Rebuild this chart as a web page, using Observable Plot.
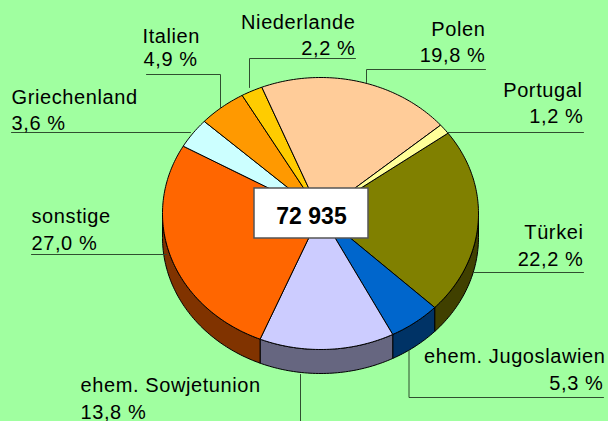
<!DOCTYPE html>
<html><head><meta charset="utf-8">
<script src="https://cdn.jsdelivr.net/npm/d3@7"></script>
<script src="https://cdn.jsdelivr.net/npm/@observablehq/plot@0.6"></script>
<style>html,body{margin:0;padding:0;background:#a0ffa0;overflow:hidden}svg{display:block}
svg text{letter-spacing:.6px}
g[font-weight="bold"] text{letter-spacing:0}</style>
</head><body><div id="c"></div>
<script>
const categories = ["Türkei","ehem. Jugoslawien","ehem. Sowjetunion","sonstige","Griechenland","Italien","Niederlande","Polen","Portugal"];
const shares = [22.2,5.3,13.8,27.0,3.6,4.9,2.2,19.8,1.2];
const shareLabels = ["22,2 %","5,3 %","13,8 %","27,0 %","3,6 %","4,9 %","2,2 %","19,8 %","1,2 %"];
const colors = ["#808000","#0066cc","#ccccff","#ff6600","#ccffff","#ff9900","#ffcc00","#ffcc99","#ffff99"];
const sideColors = ["#404000","#003366","#666680","#803300","#668080","#804d00","#806600","#806650","#80804d"];
const total = "72 935";

// layout of the pie
const cx = 320, cy = 213, rx = 158, ry = 136, depth = 24, startAngle = 53.8;
// label layout
const labelX = [583,605,80,31,11,142,355,485,582];
const labelAnchor = ["end","end","start","start","start","start","end","end","end"];
const nameBase = [238,362,391,222,103,42,28,35,96];
const valueBase = [265,389,418,249,129,65,54,61,122];
const valueX = [583,603,80,31,11,143,355,485,583];
const leaders = [
  [[473,272],[583,272]],
  [[408.5,350],[408.5,397],[603,397]],
  [[300,374],[300,421]],
  [[31,254],[166,254]],
  [[11,132],[190,132]],
  [[146,74],[220,74],[220,107]],
  [[249,87],[249,58],[355,58]],
  [[366,82],[366,69],[485,69]],
  [[447,132],[583,132]]
];

const rad = a => a * Math.PI / 180;
const pt = (a, dy = 0) => ({x: cx + rx * Math.sin(rad(a)), y: cy - ry * Math.cos(rad(a)) + dy});
const arcAngles = (a0, a1) => { const out = []; for (let a = a0; a < a1; a += 1) out.push(a); out.push(a1); return out; };

let acc = startAngle;
const slices = shares.map((s, i) => { const a0 = acc; acc += s * 3.6; return {a0, a1: acc, i}; });

const tops = slices.map(({a0, a1}) => {
  const arc = arcAngles(a0, a1).map(a => pt(a));
  return [{x: cx, y: cy}, ...arc, {x: cx, y: cy}];
});
const sides = slices.map(({a0, a1, i}) => {
  const lo = Math.max(a0, 90), hi = Math.min(a1, 270);
  if (lo >= hi) return null;
  const ang = arcAngles(lo, hi);
  const poly = [...ang.map(a => pt(a)), ...ang.slice().reverse().map(a => pt(a, depth))];
  poly.push(poly[0]);
  return {poly, i};
}).filter(Boolean);

const font = {fontFamily: "Liberation Sans, Arial, sans-serif", fill: "#000"};
const labelSize = 20;

const plot = Plot.plot({
  width: 608, height: 421, margin: 0,
  style: {background: "transparent", overflow: "visible"},
  x: {domain: [0, 608], range: [0, 608], axis: null},
  y: {domain: [0, 421], range: [0, 421], axis: null},
  marks: [
    ...sides.map(({poly, i}) => Plot.line(poly, {x: "x", y: "y", fill: sideColors[i], stroke: "#000", strokeWidth: 1, curve: "linear"})),
    ...tops.map((poly, i) => Plot.line(poly, {x: "x", y: "y", fill: colors[i], stroke: "#000", strokeWidth: 1, curve: "linear"})),
    ...leaders.map(l => Plot.line(l, {x: d => d[0], y: d => d[1], stroke: "#2f4f2f", strokeWidth: 1, curve: "linear"})),
    Plot.rect([total], {x1: () => 254, x2: () => 368, y1: () => 188, y2: () => 238, fill: "#fff", stroke: "#555", strokeWidth: 1.5}),
    Plot.text([total], {x: () => 311, y: () => 223, text: d => d, fontSize: 23, fontWeight: "bold", lineAnchor: "bottom", ...font}),
    ...categories.map((c, i) => Plot.text([c], {x: () => labelX[i], y: () => nameBase[i], text: d => d, textAnchor: labelAnchor[i], lineAnchor: "bottom", fontSize: labelSize, ...font})),
    ...shareLabels.map((c, i) => Plot.text([c], {x: () => valueX[i], y: () => valueBase[i], text: d => d, textAnchor: labelAnchor[i], lineAnchor: "bottom", fontSize: labelSize, ...font}))
  ]
});
document.getElementById("c").append(plot);
</script>
</body></html>
